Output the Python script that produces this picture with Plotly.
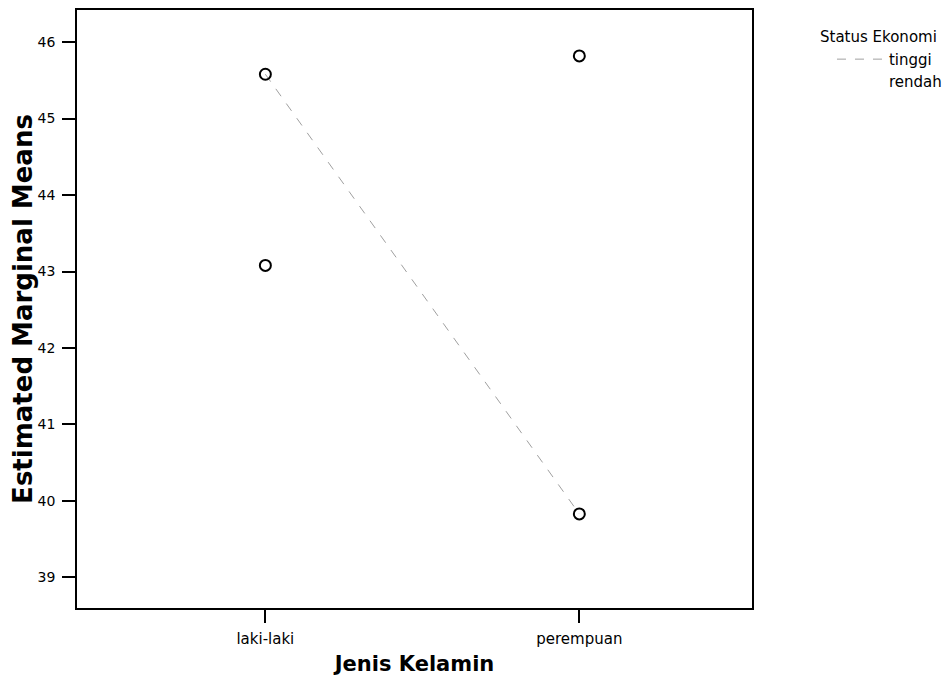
import plotly.graph_objects as go

categories = ["laki-laki", "perempuan"]
tinggi = [45.58, 39.83]
rendah = [43.08, 45.82]
series_names = ["tinggi", "rendah"]
legend_title = "Status Ekonomi"
y_ticks = [39, 40, 41, 42, 43, 44, 45, 46]

FONT = "DejaVu Sans, Verdana, sans-serif"

fig = go.Figure()
fig.add_trace(go.Scatter(x=categories, y=tinggi, mode="lines", name=series_names[0],
                         line=dict(color="#a0a0a0", width=1, dash="dash")))
fig.add_trace(go.Scatter(x=categories, y=rendah, mode="lines", name=series_names[1],
                         line=dict(color="rgba(0,0,0,0)", width=1, dash="dot")))
for vals in (tinggi, rendah):
    fig.add_trace(go.Scatter(x=categories, y=vals, mode="markers", showlegend=False,
                             marker=dict(symbol="circle-open", size=11, color="black",
                                         line=dict(width=2, color="black"))))

axis_common = dict(showline=True, linecolor="black", linewidth=1.5, mirror=True,
                   ticks="outside", ticklen=13, tickcolor="black", tickwidth=1.5,
                   showgrid=False, zeroline=False)

fig.update_layout(
    width=952, height=677,
    margin=dict(l=69, r=208, t=0, b=77),
    plot_bgcolor="white", paper_bgcolor="white",
    font=dict(family=FONT, color="black"),
    xaxis=dict(type="category", range=[-0.6, 1.55],
               tickfont=dict(family=FONT, size=15, color="black"), ticklabelstandoff=3,
               title=dict(text="<b>Jenis Kelamin</b>", font=dict(size=21), standoff=10),
               **axis_common),
    yaxis=dict(range=[38.6, 46.42], tickvals=y_ticks,
               tickfont=dict(family=FONT, size=14, color="black"), ticklabelstandoff=4,
               title=dict(text="<b>Estimated Marginal Means</b>", font=dict(size=26), standoff=3),
               **axis_common),
    legend=dict(x=1.1185, y=0.945, xanchor="left", yanchor="top",
                font=dict(size=15), tracegroupgap=0, itemwidth=47,
                bgcolor="rgba(0,0,0,0)"),
    annotations=[dict(text=legend_title, xref="paper", yref="paper",
                      x=1.098, y=0.955, xanchor="left", yanchor="middle",
                      showarrow=False, font=dict(size=15))],
)

fig.write_html("out.html")
